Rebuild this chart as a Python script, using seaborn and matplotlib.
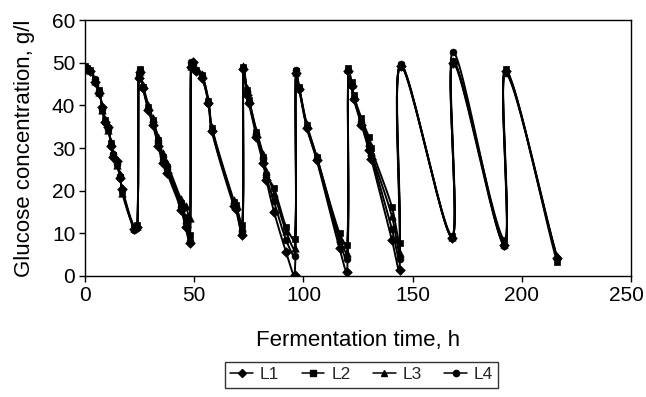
import numpy as np
import pandas as pd
import matplotlib
matplotlib.use("Agg")
import matplotlib.pyplot as plt
import matplotlib.transforms as mtransforms
from matplotlib.lines import Line2D
import seaborn as sns

# ---------------- data ----------------
time_h = [0, 1, 2.5, 4.5, 6.5, 8, 9, 10.5, 12, 13, 14.5, 16, 17, 22.5, 24,
          24.5, 25, 26.5, 29, 31, 33.5, 35.5, 37.5, 44, 46, 48,
          48.5, 49.5, 51, 53.5, 56.5, 58, 68, 69, 72,
          72.5, 74, 75, 78.5, 81.5, 83, 86.5, 92, 96,
          96.5, 98, 101.5, 106, 116.5, 120,
          120.5, 122, 123, 126.5, 130, 131, 140.5, 144,
          144.5, 168,
          168.5, 192,
          192.5, 216]

glucose_L1 = [49, 48.6, 48, 45.5, 43, 39.5, 36, 35, 30.5, 28, 27, 23, 20.5, 11, 11.5,
              46.5, 47.8, 44, 38.8, 35.5, 30.5, 26.5, 24.2, 15.5, 11.5, 7.8,
              49, 50.2, 48, 46.5, 40.5, 34, 16.5, 15.8, 9.6,
              48.5, 42.5, 40.5, 32.5, 26.5, 22.5, 15.1, 5.7, 0.3,
              47.5, 43.8, 34.8, 27.3, 6.5, 1,
              48, 44.5, 41.5, 35.5, 29.5, 27.5, 8.5, 1.4,
              49.3, 9.0,
              50, 7.2,
              48, 4.3]

glucose_L2 = [49.2, 48.8, 48.3, 46, 43.6, 38.9, 36.5, 34.7, 31.1, 28.4, 26.5, 23.3, 20, 11.5, 12,
              47, 48.4, 44.4, 39.7, 36.5, 31.9, 28, 25.6, 17.1, 13.9, 9.5,
              49.5, 49.8, 48.3, 47.1, 40.9, 34.6, 17.4, 16.6, 12,
              49, 43.6, 41.2, 33.8, 28, 23.7, 20.6, 11.6, 8.6,
              48, 44.4, 35.4, 28, 10, 7.3,
              48.7, 45.5, 42.4, 37, 32.5, 30, 16.2, 7.7,
              49.5, 9.4,
              50.3, 8.5,
              48.4, 3.3]

glucose_L3 = [48.8, 48.5, 48.2, 45.8, 43.2, 39, 36.8, 34.2, 31.5, 28.8, 26, 23.8, 19.5, 11.2, 11.8,
              47.2, 48, 44.8, 40, 37, 32.5, 28.8, 26.5, 18, 16.5, 13.5,
              49.2, 49.5, 48.5, 47.3, 41.2, 35, 17.8, 17, 11.5,
              49.2, 44, 41.5, 34, 28.5, 24.5, 19.5, 10.5, 6.5,
              47.8, 44.2, 35.6, 28.2, 9, 5.5,
              48.5, 45, 42, 36.5, 31.5, 29, 14, 5.5,
              49.2, 9.1,
              50.5, 7.5,
              47.8, 4.6]

glucose_L4 = [49, 48.7, 48.1, 46.2, 43.4, 39.2, 36.2, 34.5, 30.8, 28.6, 26.3, 23.5, 20.2, 10.8, 11.3,
              46.8, 48.2, 44.2, 39.2, 36, 31.2, 27.2, 25, 16.2, 12.5, 8.2,
              50.2, 49.6, 48.1, 46.8, 40.6, 34.3, 17, 16, 10.2,
              48.8, 43, 40.8, 33.2, 27.5, 23.2, 17.5, 8.5, 4.8,
              48.2, 44, 35, 27.6, 8, 4,
              48.2, 44.8, 41.8, 36, 30.5, 28.4, 11, 4,
              49.6, 9.2,
              52.6, 7.0,
              47.5, 4.2]

series_names = ["L1", "L2", "L3", "L4"]
series_markers = ["D", "s", "^", "o"]

# ---------------- helpers ----------------
SX, SY = 2.184, 4.267  # approx. pixels per data unit, for chord lengths


def smooth_curve(x, y, n=24):
    """Smoothed line (Bezier, Catmull-Rom like, chord-length weighted) through the points."""
    P = np.column_stack([np.asarray(x, float), np.asarray(y, float)])
    S = P * np.array([SX, SY])
    m = len(P)
    d = np.hypot(*(np.diff(S, axis=0)).T)
    out = [P[0]]
    for i in range(m - 1):
        p1, p2 = P[i], P[i + 1]
        d12 = d[i]
        if i > 0:
            d01 = d[i - 1]
            c1 = p1 + (p2 - P[i - 1]) * (d12 / (d01 + d12)) / 3.0
        else:
            c1 = p1 + (p2 - p1) / 3.0
        if i + 2 < m:
            d23 = d[i + 1]
            c2 = p2 - (P[i + 2] - p1) * (d12 / (d12 + d23)) / 3.0
        else:
            c2 = p2 - (p2 - p1) / 3.0
        t = np.linspace(0, 1, n + 1)[1:, None]
        seg = ((1 - t) ** 3) * p1 + 3 * ((1 - t) ** 2) * t * c1 + 3 * (1 - t) * t ** 2 * c2 + t ** 3 * p2
        out.extend(seg)
    out = np.array(out)
    return out[:, 0], out[:, 1]

# ---------------- figure ----------------
sns.set_style("ticks")
plt.rcParams["font.family"] = ["Liberation Sans", "DejaVu Sans"]

fig = plt.figure(figsize=(6.46, 3.97), dpi=100)
ax = fig.add_axes([0.1316, 0.3048, 0.977 - 0.1316, 0.9496 - 0.3048])

all_series = [glucose_L1, glucose_L2, glucose_L3, glucose_L4]
for name, vals, mk in zip(series_names, all_series, series_markers):
    sx, sy = smooth_curve(time_h, vals)
    dense = pd.DataFrame({"t": sx, "g": sy})
    sns.lineplot(data=dense, x="t", y="g", sort=False, estimator=None,
                 color="black", linewidth=1.4, ax=ax, legend=False)
    pts = pd.DataFrame({"t": time_h, "g": vals})
    sns.scatterplot(data=pts, x="t", y="g", marker=mk, color="black",
                    s=24 if mk != "^" else 28, edgecolor="black", linewidth=0.5,
                    ax=ax, legend=False, zorder=3)

ax.set_xlim(0, 250)
ax.set_ylim(0, 60)
ax.set_xticks(np.arange(0, 251, 50))
ax.set_yticks(np.arange(0, 61, 10))
ax.tick_params(axis="both", direction="out", length=4, width=1, labelsize=15,
               color="black", labelcolor="black", pad=3)
for sp in ax.spines.values():
    sp.set_visible(True)
    sp.set_color("black")
    sp.set_linewidth(1.0)

# keep the last x tick label inside the picture
fig.canvas.draw()
last = ax.get_xticklabels()[-1]
last.set_transform(last.get_transform() +
                   mtransforms.ScaledTranslation(-5 / 100, 0, fig.dpi_scale_trans))

ax.set_xlabel("Fermentation time, h", fontsize=16, color="black", labelpad=18)
ax.set_ylabel("Glucose concentration, g/l", fontsize=16, color="black", labelpad=12)

handles = [Line2D([0], [0], color="black", linewidth=1.1, marker=mk, markersize=4.5,
                  markerfacecolor="black", markeredgecolor="black", label=nm)
           for nm, mk in zip(series_names, series_markers)]
leg = fig.legend(handles=handles, loc="center", bbox_to_anchor=(0.560, 0.056), ncol=4,
                 fontsize=12.5, frameon=True, fancybox=False, edgecolor="black",
                 handlelength=1.3, handletextpad=0.4, columnspacing=1.3,
                 borderpad=0.3)
leg.get_frame().set_linewidth(1.0)

fig.savefig("out.png", dpi=100)
